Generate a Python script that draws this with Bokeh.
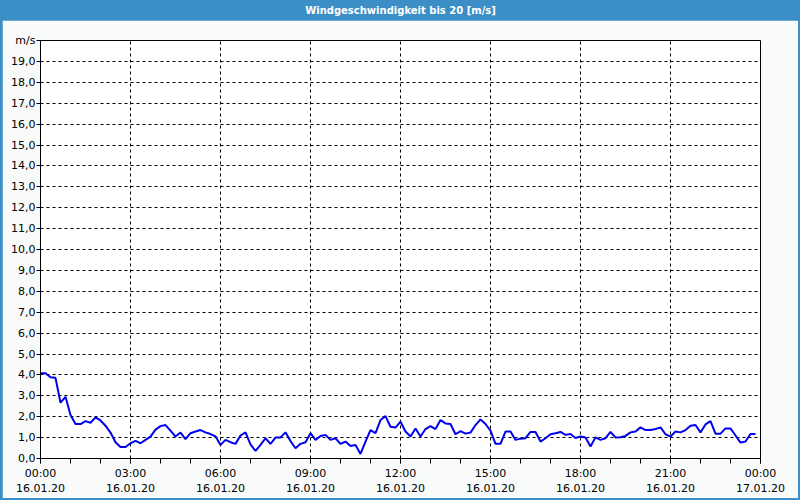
from bokeh.plotting import figure
from bokeh.models import Range1d, FixedTicker
from bokeh.layouts import column
from bokeh.embed import file_html
from bokeh.resources import INLINE
from bokeh.core.properties import value

title_text = "Windgeschwindigkeit bis 20 [m/s]"
unit_label = "m/s"

# wind speed [m/s], one sample every 10 minutes from 16.01.20 00:00 to 23:50
speeds = [
    4.08, 4.08, 3.89, 3.86, 2.67, 2.95, 2.08, 1.65, 1.65, 1.79, 1.71, 1.97,
    1.82, 1.57, 1.24, 0.78, 0.55, 0.55, 0.73, 0.84, 0.73, 0.89, 1.05, 1.38,
    1.55, 1.60, 1.33, 1.05, 1.24, 0.93, 1.21, 1.29, 1.36, 1.25, 1.17, 1.06,
    0.65, 0.89, 0.78, 0.70, 1.10, 1.25, 0.68, 0.36, 0.65, 0.97, 0.70, 1.00,
    1.01, 1.25, 0.84, 0.49, 0.70, 0.78, 1.21, 0.89, 1.08, 1.13, 0.89, 0.97,
    0.70, 0.81, 0.60, 0.65, 0.22, 0.81, 1.36, 1.21, 1.84, 2.03, 1.52, 1.48,
    1.76, 1.29, 1.05, 1.44, 1.05, 1.41, 1.55, 1.41, 1.84, 1.68, 1.65, 1.16,
    1.31, 1.19, 1.24, 1.60, 1.87, 1.65, 1.33, 0.70, 0.70, 1.29, 1.29, 0.89,
    0.95, 0.97, 1.27, 1.27, 0.81, 0.97, 1.16, 1.21, 1.27, 1.13, 1.17, 0.98,
    1.05, 1.00, 0.57, 1.01, 0.89, 0.97, 1.27, 1.01, 1.02, 1.08, 1.25, 1.29,
    1.49, 1.36, 1.36, 1.41, 1.49, 1.16, 1.05, 1.29, 1.25, 1.36, 1.57, 1.60,
    1.25, 1.63, 1.79, 1.19, 1.19, 1.44, 1.44, 1.10, 0.76, 0.81, 1.17, 1.17,
]
# sample times in hours after 16.01.20 00:00 (10-minute interval)
hours = [i * 10 / 60 for i in range(len(speeds))]

x_ticks = [0, 3, 6, 9, 12, 15, 18, 21, 24]
x_minor = list(range(0, 25))
x_tick_labels = [
    "00:00\n16.01.20", "03:00\n16.01.20", "06:00\n16.01.20", "09:00\n16.01.20",
    "12:00\n16.01.20", "15:00\n16.01.20", "18:00\n16.01.20", "21:00\n16.01.20",
    "00:00\n17.01.20",
]
y_ticks = list(range(0, 21))
y_tick_labels = [f"{v},0" for v in range(0, 20)] + [unit_label]

BLUE = "#3C8FC6"
FONT = "DejaVu Sans"

# header bar
h = figure(width=796, height=20, x_range=Range1d(0, 1), y_range=Range1d(0, 1),
           x_axis_type=None, y_axis_type=None, toolbar_location=None,
           output_backend="svg", min_border=0,
           background_fill_color=BLUE, border_fill_color=BLUE, outline_line_color=None)
h.grid.visible = False
h.text(x=[0.5], y=[0.5], text=[title_text], text_align="center", text_baseline="middle",
       text_color="white", text_font=value(FONT), text_font_size="10px",
       text_font_style="bold")

# main chart
p = figure(width=796, height=478, x_range=Range1d(0, 24), y_range=Range1d(0, 20),
           toolbar_location=None, output_backend="svg",
           min_border_left=38, min_border_right=38, min_border_top=20, min_border_bottom=38,
           background_fill_color="white", border_fill_color="#F8FBF9",
           outline_line_color="black", outline_line_width=1)

p.line(hours, speeds, line_color="#0000EE", line_width=2)

p.xaxis.ticker = FixedTicker(ticks=x_ticks, minor_ticks=x_minor)
p.xaxis.major_label_overrides = {t: l for t, l in zip(x_ticks, x_tick_labels)}
p.yaxis.ticker = FixedTicker(ticks=y_ticks)
p.yaxis.major_label_overrides = {t: l for t, l in zip(y_ticks, y_tick_labels)}

for ax in (p.xaxis[0], p.yaxis[0]):
    ax.axis_line_color = "black"
    ax.major_tick_line_color = "black"
    ax.minor_tick_line_color = "black"
    ax.major_tick_in = 0
    ax.minor_tick_in = 0
    ax.major_label_text_font = FONT
    ax.major_label_text_font_size = "11px"
    ax.major_label_text_color = "black"

p.xaxis.major_tick_out = 5
p.xaxis.minor_tick_out = 5
p.xaxis.major_label_standoff = 3
p.yaxis.major_tick_out = 4
p.yaxis.minor_tick_out = 0
p.yaxis.major_label_standoff = 1

p.xgrid.grid_line_color = "black"
p.xgrid.grid_line_dash = "3 3"
p.ygrid.grid_line_color = "black"
p.ygrid.grid_line_dash = "3 3"

layout = column(h, p, spacing=0,
                styles={"background-color": BLUE, "padding": "0px 2px 2px 2px"})

open("out.html", "w").write(file_html(layout, INLINE))
